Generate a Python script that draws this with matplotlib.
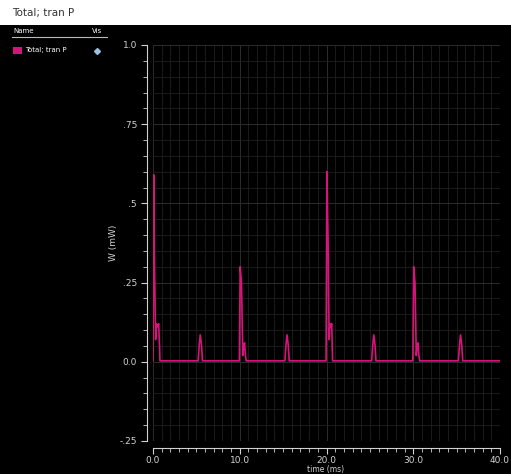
import matplotlib.pyplot as plt
from matplotlib.patches import Rectangle
from matplotlib.ticker import MultipleLocator

# transient power trace
time_ms = [0.0, 0.1, 0.15, 0.3, 0.4, 0.55, 0.65, 0.75, 0.8,
           5.2, 5.35, 5.45, 5.6, 5.7,
           9.95, 10.05, 10.2, 10.35, 10.45, 10.55, 10.65, 10.75,
           15.2, 15.35, 15.45, 15.6, 15.7,
           19.95, 20.05, 20.2, 20.3, 20.4, 20.5, 20.6, 20.7,
           25.2, 25.35, 25.45, 25.6, 25.7,
           29.95, 30.05, 30.2, 30.35, 30.45, 30.55, 30.65, 30.75,
           35.2, 35.35, 35.45, 35.6, 35.7,
           40.0]
power_mw = [0.003, 0.59, 0.35, 0.07, 0.12, 0.11, 0.12, 0.05, 0.003,
            0.003, 0.06, 0.085, 0.05, 0.003,
            0.003, 0.30, 0.25, 0.02, 0.05, 0.06, 0.02, 0.003,
            0.003, 0.06, 0.085, 0.05, 0.003,
            0.003, 0.60, 0.35, 0.07, 0.12, 0.11, 0.12, 0.003,
            0.003, 0.06, 0.085, 0.05, 0.003,
            0.003, 0.30, 0.25, 0.02, 0.05, 0.06, 0.02, 0.003,
            0.003, 0.06, 0.085, 0.05, 0.003,
            0.003]

y_ticks = [-0.25, 0.0, 0.25, 0.5, 0.75, 1.0]
y_labels = ['-.25', '0.0', '.25', '.5', '.75', '1.0']
x_ticks = [0, 10, 20, 30, 40]
x_labels = ['0.0', '10.0', '20.0', '30.0', '40.0']

plt.rcParams['font.family'] = ['Liberation Sans Narrow', 'DejaVu Sans']
txt = '#d2d2d2'
trace = '#d8137c'

fig = plt.figure(figsize=(5.11, 4.74), dpi=100, facecolor='black')
fig.patches.append(Rectangle((0, 449/474), 1, 25/474, transform=fig.transFigure,
                             facecolor='white', edgecolor='none', zorder=0))
fig.text(12/511, 1 - 13/474, 'Total; tran P', fontsize=7.5, color='#333333', va='center')

# legend panel on the left
fig.text(13/511, 1 - 31/474, 'Name', fontsize=5, color='white', va='center')
fig.text(92/511, 1 - 31/474, 'Vis', fontsize=5, color='white', va='center')
fig.lines.append(plt.Line2D([12/511, 107/511], [1 - 37/474, 1 - 37/474],
                            transform=fig.transFigure, color='#bbbbbb', lw=0.8))
fig.patches.append(Rectangle((13/511, 1 - 54/474), 9/511, 7/474, transform=fig.transFigure,
                             facecolor=trace, edgecolor='none'))
fig.text(25/511, 1 - 50/474, 'Total; tran P', fontsize=5, color='white', va='center')
fig.lines.append(plt.Line2D([97/511], [1 - 51/474], transform=fig.transFigure,
                            marker='D', markersize=3, color='#9cc0e0', lw=0))

ax = fig.add_axes([153/511, 33/474, 347/511, 396/474])
ax.set_facecolor('black')
ax.plot(time_ms, power_mw, color=trace, lw=1.2)

ax.set_xlim(0, 40)
ax.set_ylim(-0.25, 1.0)
ax.set_xticks(x_ticks)
ax.set_xticklabels(x_labels)
ax.set_yticks(y_ticks)
ax.set_yticklabels(y_labels)
ax.xaxis.set_minor_locator(MultipleLocator(1))
ax.yaxis.set_minor_locator(MultipleLocator(0.05))

ax.grid(which='minor', color='#1f1f1f', lw=0.6)
ax.grid(which='major', color='#2c2c2c', lw=0.7)
ax.set_axisbelow(True)

for s in ['top', 'right']:
    ax.spines[s].set_visible(False)
ax.spines['left'].set_position(('outward', 4))
ax.spines['bottom'].set_position(('outward', 5))
ax.spines['left'].set_color(txt)
ax.spines['bottom'].set_color(txt)
ax.tick_params(which='major', colors=txt, labelsize=6.5, length=4, width=0.8)
ax.tick_params(which='minor', colors=txt, length=3, width=0.6)
ax.tick_params(axis='x', which='major', pad=1.5)

ax.set_ylabel('W (mW)', color=txt, fontsize=6.5, labelpad=1)
# x label sits at the very bottom edge, mostly hidden in the original
fig.text(326/511, 0, 'time (ms)', color=txt, fontsize=5.5, ha='center', va='bottom')

fig.savefig('out.png', dpi=100, facecolor=fig.get_facecolor())
